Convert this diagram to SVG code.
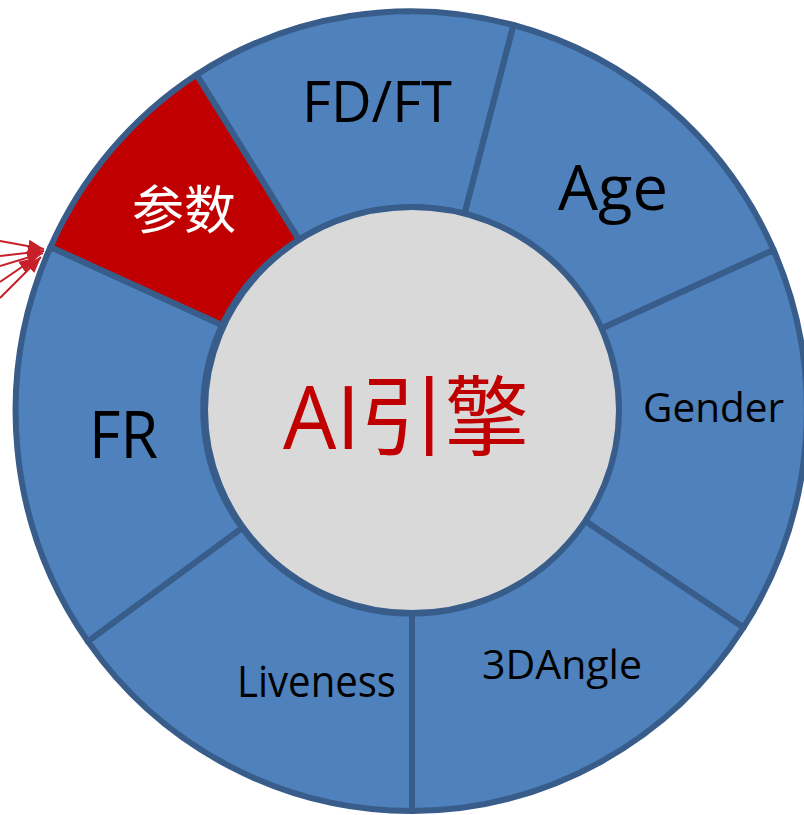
<svg xmlns="http://www.w3.org/2000/svg" width="804" height="815" viewBox="0 0 804 815">
<defs>
<style>
.seg{fill:#4F81BD;stroke:#385D8A;stroke-width:6;stroke-linejoin:round}
.red{fill:#C00000}
.lbl{font-family:"Open Sans","Liberation Sans",sans-serif;fill:#000}
.cjk{font-family:"Noto Sans CJK SC","Noto Sans",sans-serif}
.arr{stroke:#C8202A;stroke-width:2;fill:none;marker-end:url(#ah)}
</style>
<marker id="ah" markerUnits="userSpaceOnUse" markerWidth="18" markerHeight="14" refX="16" refY="6.5" orient="auto">
<path d="M0,0 L16,6.5 L0,13 Z" fill="#C8202A"/>
</marker>
</defs>
<rect width="804" height="815" fill="#FFFFFF"/>
<g id="seg-fdft">
<path class="seg" d="M196.5,74.7 A396,400 0 0 1 513.5,25 L464.5,214 A207,203 0 0 0 298.9,239.9 Z"/>
<text class="lbl" x="302" y="122" font-size="57" textLength="150" lengthAdjust="spacingAndGlyphs">FD/FT</text>
</g>
<g id="seg-age">
<path class="seg" d="M513.5,25 A396,400 0 0 1 773.6,250 L600.5,329 A207,203 0 0 0 464.5,214 Z"/>
<text class="lbl" x="558" y="210" font-size="63" textLength="110" lengthAdjust="spacingAndGlyphs">Age</text>
</g>
<g id="seg-gender">
<path class="seg" d="M773.6,250 A396,400 0 0 1 743.5,627.5 L584.8,520.8 A207,203 0 0 0 600.5,329 Z"/>
<text class="lbl" x="643" y="422" font-size="41" textLength="141" lengthAdjust="spacingAndGlyphs">Gender</text>
</g>
<g id="seg-3dangle">
<path class="seg" d="M743.5,627.5 A396,400 0 0 1 412,811 L412,613.5 A207,203 0 0 0 584.8,520.8 Z"/>
<text class="lbl" x="482" y="679" font-size="41" textLength="160" lengthAdjust="spacingAndGlyphs">3DAngle</text>
</g>
<g id="seg-liveness">
<path class="seg" d="M412,811 A396,400 0 0 1 87.8,641.4 L242.1,527.8 A207,203 0 0 0 412,613.5 Z"/>
<text class="lbl" x="237" y="697" font-size="43" textLength="159" lengthAdjust="spacingAndGlyphs">Liveness</text>
</g>
<g id="seg-fr">
<path class="seg" d="M87.8,641.4 A396,400 0 0 1 50.5,247 L222,325 A207,203 0 0 0 242.1,527.8 Z"/>
<text class="lbl" x="89" y="458" font-size="65" textLength="69" lengthAdjust="spacingAndGlyphs">FR</text>
</g>
<g id="seg-params">
<path class="seg red" d="M50.5,247 A396,400 0 0 1 196.5,74.7 L298.9,239.9 A207,203 0 0 0 222,325 Z"/>
<text class="cjk" x="132" y="229" font-size="52" fill="#FFFFFF" textLength="104" lengthAdjust="spacingAndGlyphs">参数</text>
</g>
<g id="core">
<ellipse cx="412" cy="410" rx="207" ry="203" fill="#D9D9D9" stroke="#385D8A" stroke-width="6"/>
<text x="283" y="449" font-size="87" fill="#C00000" font-family="Open Sans, Noto Sans CJK SC, sans-serif" textLength="246" lengthAdjust="spacingAndGlyphs">AI引擎</text>
</g>
<g id="connectors">
<line class="arr" x1="0" y1="241" x2="44" y2="249"/>
<line class="arr" x1="0" y1="256" x2="44" y2="251"/>
<line class="arr" x1="0" y1="266" x2="43" y2="253"/>
<line class="arr" x1="0" y1="282" x2="35" y2="258"/>
<line class="arr" x1="0" y1="298" x2="41" y2="257"/>
</g>
</svg>
